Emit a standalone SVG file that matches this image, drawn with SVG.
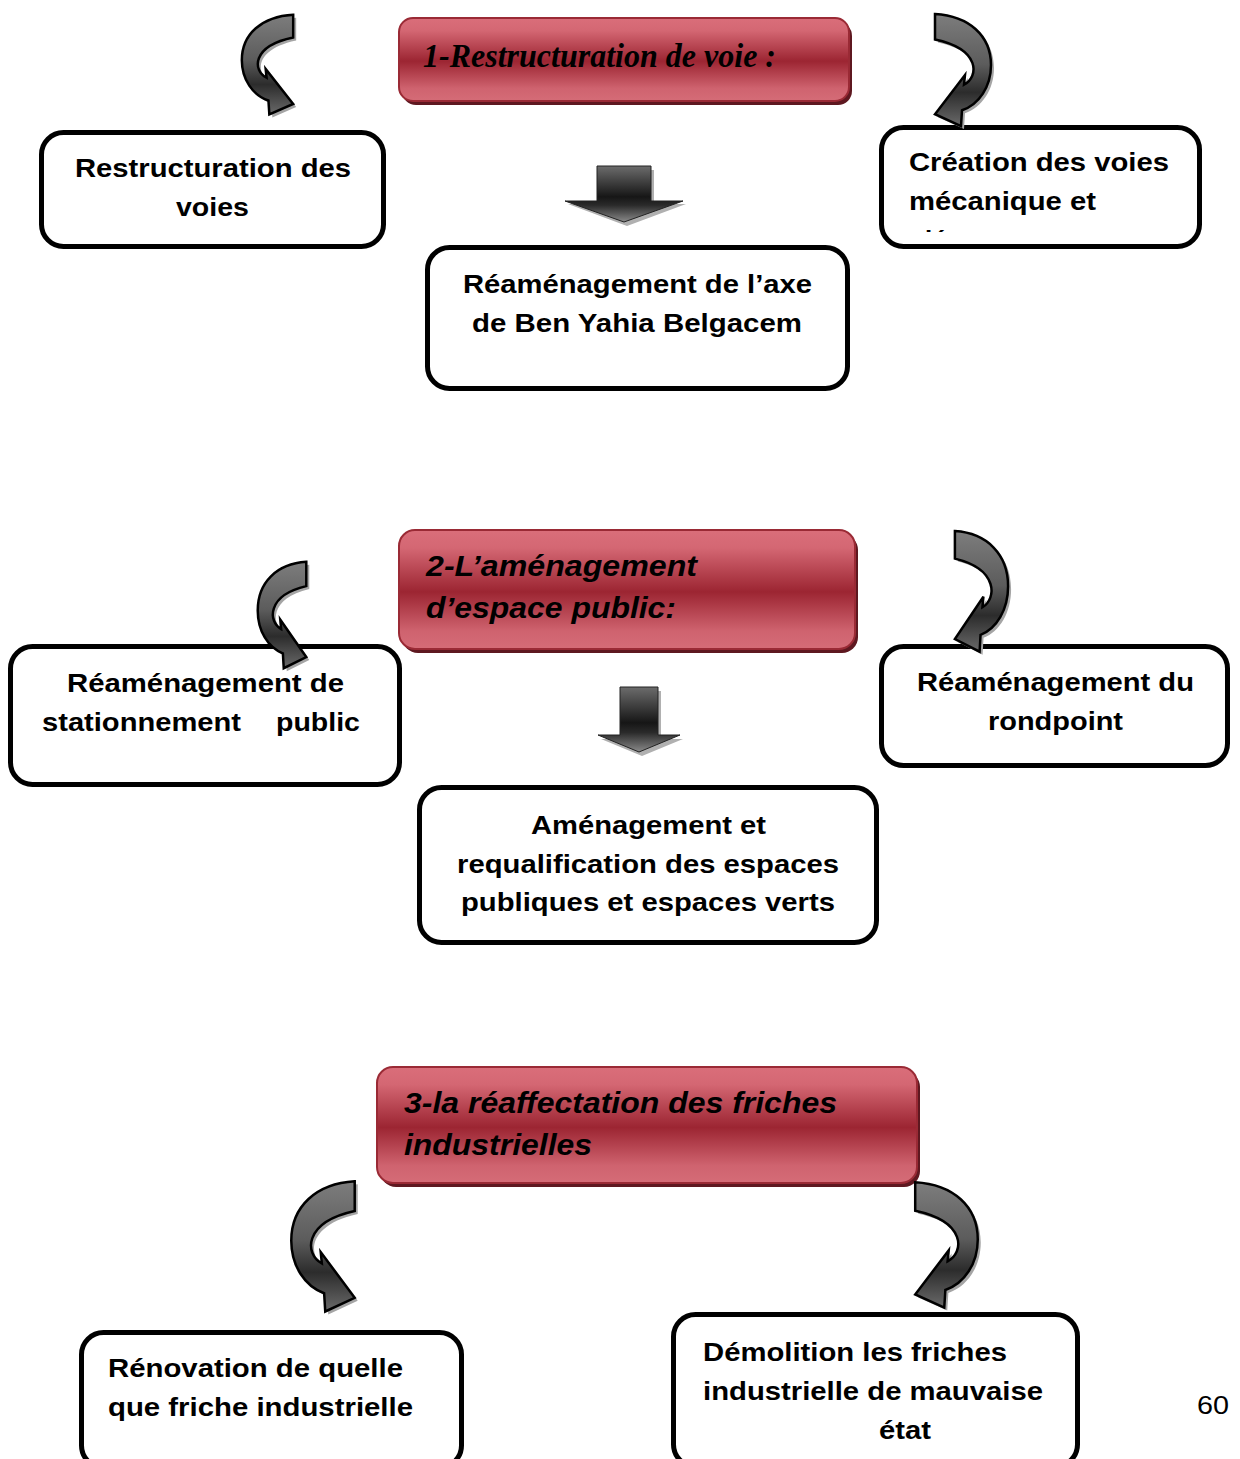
<svg xmlns="http://www.w3.org/2000/svg" width="1240" height="1459" viewBox="0 0 1240 1459">
<style>
.box{fill:#fff;stroke:#000;stroke-width:5}
.t{font-family:"Liberation Sans",Arial,sans-serif;font-weight:bold;font-size:26px;fill:#000}
.h{font-family:"Liberation Sans",Arial,sans-serif;font-weight:bold;font-style:italic;font-size:30px;fill:#000}
.hs{font-family:"Liberation Serif","Times New Roman",serif;font-weight:bold;font-style:italic;font-size:33px;fill:#000}
.hdr{fill:url(#red);stroke:#9a2a35;stroke-width:2}
.hsh{fill:#5e1820}
.arr{fill:url(#gray)}
.ash{fill:#a5a5a5}
.dn{fill:url(#dgray);stroke:#222;stroke-width:1}
.pg{font-family:"Liberation Sans",Arial,sans-serif;font-size:26px;fill:#000}
</style>
<defs>
<linearGradient id="red" x1="0" y1="0" x2="0" y2="1">
<stop offset="0" stop-color="#da6e7a"/>
<stop offset="0.15" stop-color="#d46773"/>
<stop offset="0.52" stop-color="#9c2532"/>
<stop offset="0.85" stop-color="#cf636f"/>
<stop offset="1" stop-color="#d56c77"/>
</linearGradient>
<linearGradient id="gray" x1="0" y1="0" x2="0" y2="1">
<stop offset="0" stop-color="#7d7d7d"/>
<stop offset="0.45" stop-color="#5c5c5c"/>
<stop offset="0.7" stop-color="#2c2c2c"/>
<stop offset="1" stop-color="#6a6a6a"/>
</linearGradient>
<linearGradient id="dgray" x1="0" y1="0" x2="0" y2="1">
<stop offset="0" stop-color="#6c6c6c"/>
<stop offset="0.55" stop-color="#161616"/>
<stop offset="0.7" stop-color="#2a2a2a"/>
<stop offset="1" stop-color="#8a8a8a"/>
</linearGradient>
<path id="carrow" d="M58,2 C24,4 2,24 2,54 C2,76 14,94 31,100 L32,116 L58,104 L28,64 L29,74 C14,66 12,38 58,28 Z" stroke="#000" stroke-width="2.5" stroke-linejoin="miter" vector-effect="non-scaling-stroke"/>
<path id="carrowsh" d="M58,2 C24,4 2,24 2,54 C2,76 14,94 31,100 L32,116 L58,104 L28,64 L29,74 C14,66 12,38 58,28 Z"/>
<clipPath id="clipB"><rect x="881" y="127" width="318" height="105"/></clipPath>
</defs>

<g id="header1">
<rect class="hsh" x="402" y="22" width="450" height="83" rx="14"/>
<rect class="hdr" x="399" y="18" width="450" height="83" rx="14"/>
<text class="hs" x="423" y="67" textLength="353" lengthAdjust="spacingAndGlyphs">1-Restructuration de voie :</text>
</g>

<g id="node-restructuration">
<rect class="box" x="41.5" y="132.5" width="342" height="114" rx="22"/>
<text class="t" x="75" y="177" textLength="276" lengthAdjust="spacingAndGlyphs">Restructuration des</text>
<text class="t" x="176" y="216" textLength="73" lengthAdjust="spacingAndGlyphs">voies</text>
</g>

<g id="node-creation">
<rect class="box" x="881.5" y="127.5" width="318" height="119" rx="22"/>
<text class="t" x="909" y="171" textLength="260" lengthAdjust="spacingAndGlyphs">Création des voies</text>
<text class="t" x="909" y="210" textLength="187" lengthAdjust="spacingAndGlyphs">mécanique et</text>
<text class="t" x="909" y="249" clip-path="url(#clipB)">piétonne</text>
</g>

<g id="node-axe">
<rect class="box" x="427.5" y="247.5" width="420" height="141" rx="22"/>
<text class="t" x="463" y="293" textLength="349" lengthAdjust="spacingAndGlyphs">Réaménagement de l’axe</text>
<text class="t" x="472" y="332" textLength="330" lengthAdjust="spacingAndGlyphs">de Ben Yahia Belgacem</text>
</g>

<g id="header2">
<rect class="hsh" x="402" y="534" width="456" height="119" rx="16"/>
<rect class="hdr" x="399" y="530" width="456" height="119" rx="16"/>
<text class="h" x="426" y="576" textLength="271" lengthAdjust="spacingAndGlyphs">2-L’aménagement</text>
<text class="h" x="426" y="618" textLength="250" lengthAdjust="spacingAndGlyphs">d’espace public:</text>
</g>

<g id="node-stationnement">
<rect class="box" x="10.5" y="646.5" width="389" height="138" rx="22"/>
<text class="t" x="67" y="692" textLength="277" lengthAdjust="spacingAndGlyphs">Réaménagement de</text>
<text class="t" x="42" y="731" textLength="199" lengthAdjust="spacingAndGlyphs">stationnement</text>
<text class="t" x="276" y="731" textLength="84" lengthAdjust="spacingAndGlyphs">public</text>
</g>

<g id="node-rondpoint">
<rect class="box" x="881.5" y="646.5" width="346" height="119" rx="22"/>
<text class="t" x="917" y="691" textLength="277" lengthAdjust="spacingAndGlyphs">Réaménagement du</text>
<text class="t" x="988" y="730" textLength="135" lengthAdjust="spacingAndGlyphs">rondpoint</text>
</g>

<g id="node-espaces">
<rect class="box" x="419.5" y="787.5" width="457" height="155" rx="22"/>
<text class="t" x="531" y="834" textLength="235" lengthAdjust="spacingAndGlyphs">Aménagement et</text>
<text class="t" x="457" y="873" textLength="382" lengthAdjust="spacingAndGlyphs">requalification des espaces</text>
<text class="t" x="461" y="911" textLength="374" lengthAdjust="spacingAndGlyphs">publiques et espaces verts</text>
</g>

<g id="header3">
<rect class="hsh" x="380" y="1071" width="540" height="116" rx="16"/>
<rect class="hdr" x="377" y="1067" width="540" height="116" rx="16"/>
<text class="h" x="404" y="1113" textLength="433" lengthAdjust="spacingAndGlyphs">3-la réaffectation des friches</text>
<text class="h" x="404" y="1155" textLength="188" lengthAdjust="spacingAndGlyphs">industrielles</text>
</g>

<g id="node-renovation">
<rect class="box" x="81.5" y="1332.5" width="380" height="135" rx="22"/>
<text class="t" x="108" y="1377" textLength="295" lengthAdjust="spacingAndGlyphs">Rénovation de quelle</text>
<text class="t" x="108" y="1416" textLength="305" lengthAdjust="spacingAndGlyphs">que friche industrielle</text>
</g>

<g id="node-demolition">
<rect class="box" x="673.5" y="1314.5" width="404" height="152" rx="22"/>
<text class="t" x="703" y="1361" textLength="304" lengthAdjust="spacingAndGlyphs">Démolition les friches</text>
<text class="t" x="703" y="1400" textLength="340" lengthAdjust="spacingAndGlyphs">industrielle de mauvaise</text>
<text class="t" x="879" y="1439" textLength="52" lengthAdjust="spacingAndGlyphs">état</text>
</g>

<g id="connectors">
<g id="down1">
<path d="M600,170 H654 V204 H686 L627,226 L568,204 H600 Z" fill="#b0b0b0"/>
<path class="dn" d="M597,166 H651 V201 H683 L624,222 L565,201 H597 Z"/>
</g>
<g id="down2">
<path d="M623,691 H661 V739 H683 L642,756 L601,739 H623 Z" fill="#b0b0b0"/>
<path class="dn" d="M620,687 H658 V735 H680 L639,752 L598,735 H620 Z"/>
</g>
<g transform="translate(3,3)">
<use href="#carrowsh" class="ash" transform="translate(240,13) scale(0.917,0.875)"/>
<use href="#carrowsh" class="ash" transform="translate(256,560) scale(0.867,0.933)"/>
<use href="#carrowsh" class="ash" transform="translate(289,1179) scale(1.133,1.142)"/>
<use href="#carrowsh" class="ash" transform="translate(993,12) scale(-1,0.983)"/>
<use href="#carrowsh" class="ash" transform="translate(1010,529) scale(-0.95,1.058)"/>
<use href="#carrowsh" class="ash" transform="translate(980,1180) scale(-1.117,1.1)"/>
</g>
<use id="curve1-left" href="#carrow" class="arr" transform="translate(240,13) scale(0.917,0.875)"/>
<use id="curve2-left" href="#carrow" class="arr" transform="translate(256,560) scale(0.867,0.933)"/>
<use id="curve3-left" href="#carrow" class="arr" transform="translate(289,1179) scale(1.133,1.142)"/>
<use id="curve1-right" href="#carrow" class="arr" transform="translate(993,12) scale(-1,0.983)"/>
<use id="curve2-right" href="#carrow" class="arr" transform="translate(1010,529) scale(-0.95,1.058)"/>
<use id="curve3-right" href="#carrow" class="arr" transform="translate(980,1180) scale(-1.117,1.1)"/>
</g>

<text class="pg" x="1197" y="1414" textLength="32" lengthAdjust="spacingAndGlyphs">60</text>
</svg>
